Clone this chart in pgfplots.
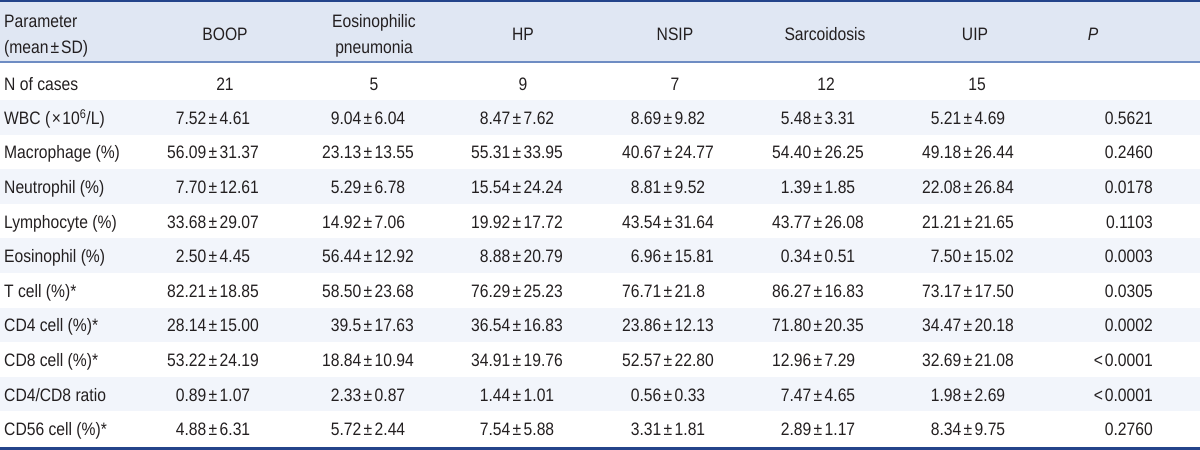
\documentclass[border=0pt]{standalone}
\usepackage{pgfplots}
\pgfplotsset{compat=1.18}
\usepackage{fontspec}
\setmainfont{Liberation Sans}[FakeStretch=0.87]
\definecolor{navy}{RGB}{36,68,138}
\definecolor{hdr}{RGB}{224,231,243}
\definecolor{hline}{RGB}{110,140,195}
\definecolor{tint}{RGB}{242,245,251}
\definecolor{txt}{RGB}{35,31,32}
\newcommand\tf{\fontsize{18}{21}\selectfont}
\tikzset{tc/.style={inner sep=0pt,text=txt,font=\tf}}
\newcommand\cellv[4]{\node[anchor=base,tc] at (axis cs:#1,#2) {\makebox[0pt][r]{#3\kern2.4pt}±\makebox[0pt][l]{\kern2.4pt#4}};}
\newcommand\rowlab[2]{\node[anchor=base west,tc] at (axis cs:4,#1) {#2};}
\newcommand\pval[2]{\node[anchor=base east,tc] at (axis cs:1153,#1) {#2};}
\newcommand\hdtxt[3]{\node[anchor=base,tc] at (axis cs:#1,#2) {#3};}
\begin{document}
\begin{tikzpicture}
\begin{axis}[scale only axis, width=1200pt, height=450pt,
  xmin=0, xmax=1200, ymin=0, ymax=450, y dir=reverse,
  axis lines=none, clip=false]
% backgrounds
\fill[hdr] (axis cs:0,0) rectangle (axis cs:1200,62);
\fill[tint] (axis cs:0,100) rectangle (axis cs:1200,134.6);
\fill[tint] (axis cs:0,169.2) rectangle (axis cs:1200,203.8);
\fill[tint] (axis cs:0,238.4) rectangle (axis cs:1200,273.0);
\fill[tint] (axis cs:0,307.6) rectangle (axis cs:1200,342.2);
\fill[tint] (axis cs:0,376.8) rectangle (axis cs:1200,411.4);
\fill[navy] (axis cs:0,0) rectangle (axis cs:1200,2.2);
\fill[hline] (axis cs:0,61) rectangle (axis cs:1200,63.3);
\fill[navy] (axis cs:0,446.8) rectangle (axis cs:1200,450);
% header
\rowlab{27}{Parameter}
\rowlab{53}{(mean\kern2pt±\kern2pt SD)}
\hdtxt{225}{40}{BOOP}
\hdtxt{374}{27}{Eosinophilic}
\hdtxt{374}{53}{pneumonia}
\hdtxt{523}{40}{HP}
\hdtxt{675}{40}{NSIP}
\hdtxt{825}{40}{Sarcoidosis}
\hdtxt{975}{40}{UIP}
\hdtxt{1093}{40}{\itshape P}
% N of cases
\rowlab{90.5}{N of cases}
\hdtxt{225}{90.5}{21}
\hdtxt{374}{90.5}{5}
\hdtxt{523}{90.5}{9}
\hdtxt{675}{90.5}{7}
\hdtxt{826}{90.5}{12}
\hdtxt{977}{90.5}{15}
% WBC
\rowlab{124.3}{WBC (\kern1.5pt×\kern1.5pt10\textsuperscript{6}/L)}
\cellv{213}{124.3}{7.52}{4.61}
\cellv{368}{124.3}{9.04}{6.04}
\cellv{517}{124.3}{8.47}{7.62}
\cellv{668}{124.3}{8.69}{9.82}
\cellv{818}{124.3}{5.48}{3.31}
\cellv{968}{124.3}{5.21}{4.69}
\pval{124.3}{0.5621}
% Macrophage
\rowlab{158.9}{Macrophage (\%)}
\cellv{213}{158.9}{56.09}{31.37}
\cellv{368}{158.9}{23.13}{13.55}
\cellv{517}{158.9}{55.31}{33.95}
\cellv{668}{158.9}{40.67}{24.77}
\cellv{818}{158.9}{54.40}{26.25}
\cellv{968}{158.9}{49.18}{26.44}
\pval{158.9}{0.2460}
% Neutrophil
\rowlab{193.5}{Neutrophil (\%)}
\cellv{213}{193.5}{7.70}{12.61}
\cellv{368}{193.5}{5.29}{6.78}
\cellv{517}{193.5}{15.54}{24.24}
\cellv{668}{193.5}{8.81}{9.52}
\cellv{818}{193.5}{1.39}{1.85}
\cellv{968}{193.5}{22.08}{26.84}
\pval{193.5}{0.0178}
% Lymphocyte
\rowlab{228.1}{Lymphocyte (\%)}
\cellv{213}{228.1}{33.68}{29.07}
\cellv{368}{228.1}{14.92}{7.06}
\cellv{517}{228.1}{19.92}{17.72}
\cellv{668}{228.1}{43.54}{31.64}
\cellv{818}{228.1}{43.77}{26.08}
\cellv{968}{228.1}{21.21}{21.65}
\pval{228.1}{0.1103}
% Eosinophil
\rowlab{262.7}{Eosinophil (\%)}
\cellv{213}{262.7}{2.50}{4.45}
\cellv{368}{262.7}{56.44}{12.92}
\cellv{517}{262.7}{8.88}{20.79}
\cellv{668}{262.7}{6.96}{15.81}
\cellv{818}{262.7}{0.34}{0.51}
\cellv{968}{262.7}{7.50}{15.02}
\pval{262.7}{0.0003}
% T cell
\rowlab{297.3}{T cell (\%)*}
\cellv{213}{297.3}{82.21}{18.85}
\cellv{368}{297.3}{58.50}{23.68}
\cellv{517}{297.3}{76.29}{25.23}
\cellv{668}{297.3}{76.71}{21.8}
\cellv{818}{297.3}{86.27}{16.83}
\cellv{968}{297.3}{73.17}{17.50}
\pval{297.3}{0.0305}
% CD4
\rowlab{331.9}{CD4 cell (\%)*}
\cellv{213}{331.9}{28.14}{15.00}
\cellv{368}{331.9}{39.5}{17.63}
\cellv{517}{331.9}{36.54}{16.83}
\cellv{668}{331.9}{23.86}{12.13}
\cellv{818}{331.9}{71.80}{20.35}
\cellv{968}{331.9}{34.47}{20.18}
\pval{331.9}{0.0002}
% CD8
\rowlab{366.5}{CD8 cell (\%)*}
\cellv{213}{366.5}{53.22}{24.19}
\cellv{368}{366.5}{18.84}{10.94}
\cellv{517}{366.5}{34.91}{19.76}
\cellv{668}{366.5}{52.57}{22.80}
\cellv{818}{366.5}{12.96}{7.29}
\cellv{968}{366.5}{32.69}{21.08}
\pval{366.5}{<\kern2pt0.0001}
% ratio
\rowlab{401.1}{CD4/CD8 ratio}
\cellv{213}{401.1}{0.89}{1.07}
\cellv{368}{401.1}{2.33}{0.87}
\cellv{517}{401.1}{1.44}{1.01}
\cellv{668}{401.1}{0.56}{0.33}
\cellv{818}{401.1}{7.47}{4.65}
\cellv{968}{401.1}{1.98}{2.69}
\pval{401.1}{<\kern2pt0.0001}
% CD56
\rowlab{435.7}{CD56 cell (\%)*}
\cellv{213}{435.7}{4.88}{6.31}
\cellv{368}{435.7}{5.72}{2.44}
\cellv{517}{435.7}{7.54}{5.88}
\cellv{668}{435.7}{3.31}{1.81}
\cellv{818}{435.7}{2.89}{1.17}
\cellv{968}{435.7}{8.34}{9.75}
\pval{435.7}{0.2760}
\end{axis}
\end{tikzpicture}
\end{document}
